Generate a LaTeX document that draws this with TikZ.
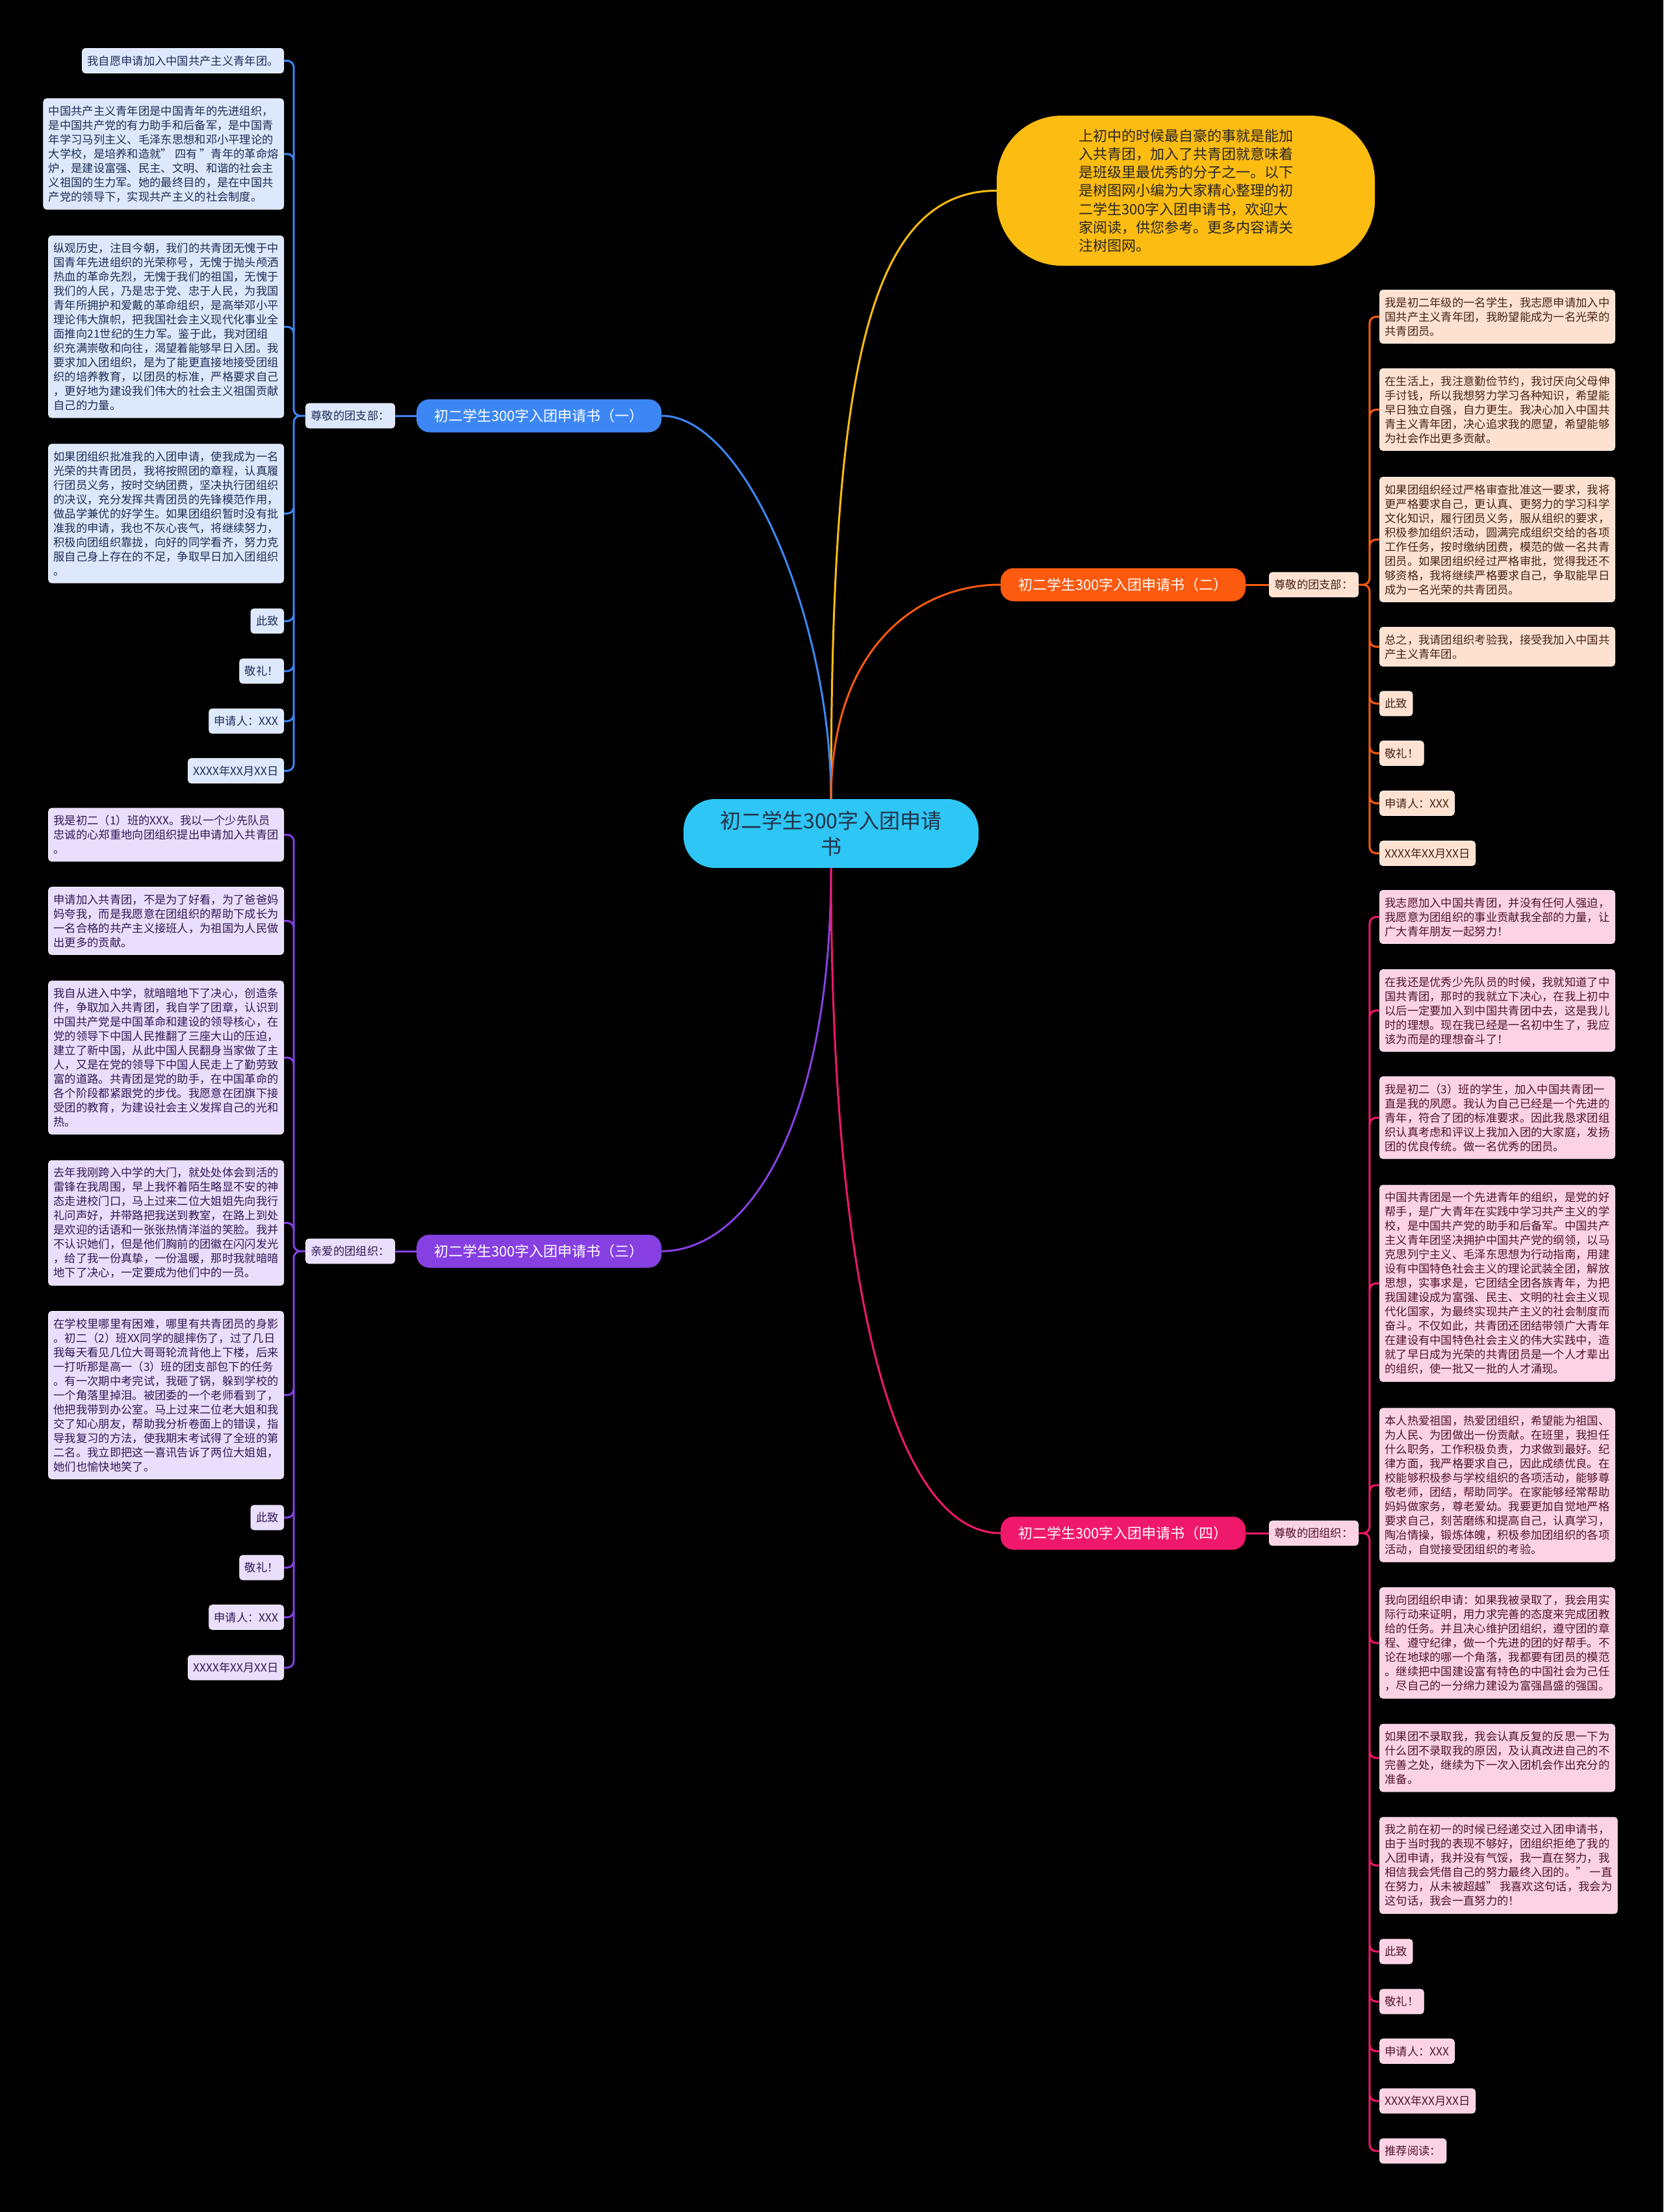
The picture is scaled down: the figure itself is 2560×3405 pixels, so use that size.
\documentclass[tikz,border=0pt]{standalone}
\usepackage{fontspec}
\setmainfont{Noto Sans CJK SC}
\definecolor{cblue}{RGB}{61,135,245}
\definecolor{lblue}{RGB}{221,232,252}
\definecolor{tblue}{RGB}{30,45,85}
\definecolor{corange}{RGB}{251,90,15}
\definecolor{lorange}{RGB}{253,226,210}
\definecolor{torange}{RGB}{70,35,20}
\definecolor{cpurple}{RGB}{134,64,226}
\definecolor{lpurple}{RGB}{233,222,251}
\definecolor{tpurple}{RGB}{50,25,85}
\definecolor{cpink}{RGB}{240,24,106}
\definecolor{lpink}{RGB}{251,211,228}
\definecolor{tpink}{RGB}{80,20,45}
\definecolor{cyellow}{RGB}{253,188,17}
\definecolor{ccenter}{RGB}{46,198,245}
\definecolor{tcenter}{RGB}{35,50,70}
\begin{document}
\begin{tikzpicture}[x=1pt, y=-1pt,
  leaf/.style={rounded corners=5pt, inner xsep=8pt, inner ysep=11pt, align=left,
    font=\fontsize{17.3}{22}\selectfont, line width=0.8pt},
  bleaf/.style={leaf, fill=lblue, draw=lblue!50!white, text=tblue},
  oleaf/.style={leaf, fill=lorange, draw=lorange!50!white, text=torange},
  vleaf/.style={leaf, fill=lpurple, draw=lpurple!50!white, text=tpurple},
  pleaf/.style={leaf, fill=lpink, draw=lpink!50!white, text=tpink},
  branch/.style={rounded corners=20pt, minimum width=377pt, minimum height=51pt,
    inner sep=0pt, text=white, font=\fontsize{22}{26}\selectfont},
  link/.style={line width=3pt},
  tree/.style={line width=3pt, rounded corners=10pt}]
\fill[black] (0,0) rectangle (2560,3405);

% centre and introduction
\node[fill=ccenter, rounded corners=48pt, minimum width=454pt, minimum height=106pt,
  align=center, text=tcenter, font=\fontsize{32}{40}\selectfont]
  (main) at (1279,1283) {初二学生300字入团申请\\书};
\node[fill=cyellow, rounded corners=100pt, minimum width=582pt, minimum height=231pt,
  align=left, text=black!85, font=\fontsize{22}{28.3}\selectfont]
  (intro) at (1825,293.5) {上初中的时候最自豪的事就是能加\\入共青团，加入了共青团就意味着\\是班级里最优秀的分子之一。以下\\是树图网小编为大家精心整理的初\\二学生300字入团申请书，欢迎大\\家阅读，供您参考。更多内容请关\\注树图网。};

% the four letters
\node[branch, fill=cblue]   (b1) at (829.5,640)  {初二学生300字入团申请书（一）};
\node[branch, fill=corange] (b2) at (1728.5,900) {初二学生300字入团申请书（二）};
\node[branch, fill=cpurple] (b3) at (829.5,1926) {初二学生300字入团申请书（三）};
\node[branch, fill=cpink]   (b4) at (1728.5,2360) {初二学生300字入团申请书（四）};

\node[bleaf, anchor=east] (zb1) at (608,640)  {尊敬的团支部：};
\node[oleaf, anchor=west] (zb2) at (1953,900) {尊敬的团支部：};
\node[vleaf, anchor=east] (zb3) at (608,1926) {亲爱的团组织：};
\node[pleaf, anchor=west] (zb4) at (1953,2360) {尊敬的团组织：};

% letter one
\node[bleaf, anchor=east] (l1a) at (437,93.5) {我自愿申请加入中国共产主义青年团。};
\node[bleaf, anchor=east] (l1b) at (437,237) {中国共产主义青年团是中国青年的先进组织，\\是中国共产党的有力助手和后备军，是中国青\\年学习马列主义、毛泽东思想和邓小平理论的\\大学校，是培养和造就" 四有 "青年的革命熔\\炉，是建设富强、民主、文明、和谐的社会主\\义祖国的生力军。她的最终目的，是在中国共\\产党的领导下，实现共产主义的社会制度。};
\node[bleaf, anchor=east] (l1c) at (437,503) {纵观历史，注目今朝，我们的共青团无愧于中\\国青年先进组织的光荣称号，无愧于抛头颅洒\\热血的革命先烈，无愧于我们的祖国，无愧于\\我们的人民，乃是忠于党、忠于人民，为我国\\青年所拥护和爱戴的革命组织，是高举邓小平\\理论伟大旗帜，把我国社会主义现代化事业全\\面推向21世纪的生力军。鉴于此，我对团组\\织充满崇敬和向往，渴望着能够早日入团。我\\要求加入团组织，是为了能更直接地接受团组\\织的培养教育，以团员的标准，严格要求自己\\，更好地为建设我们伟大的社会主义祖国贡献\\自己的力量。};
\node[bleaf, anchor=east] (l1d) at (437,790.5) {如果团组织批准我的入团申请，使我成为一名\\光荣的共青团员，我将按照团的章程，认真履\\行团员义务，按时交纳团费，坚决执行团组织\\的决议，充分发挥共青团员的先锋模范作用，\\做品学兼优的好学生。如果团组织暂时没有批\\准我的申请，我也不灰心丧气，将继续努力，\\积极向团组织靠拢，向好的同学看齐，努力克\\服自己身上存在的不足，争取早日加入团组织\\。};
\node[bleaf, anchor=east] (l1e) at (437,956)    {此致};
\node[bleaf, anchor=east] (l1f) at (437,1033)   {敬礼！};
\node[bleaf, anchor=east] (l1g) at (437,1110)   {申请人：XXX};
\node[bleaf, anchor=east] (l1h) at (437,1186.5) {XXXX年XX月XX日};

% letter two
\node[oleaf, anchor=west] (l2a) at (2123,487.5) {我是初二年级的一名学生，我志愿申请加入中\\国共产主义青年团，我盼望能成为一名光荣的\\共青团员。};
\node[oleaf, anchor=west] (l2b) at (2123,630.5) {在生活上，我注意勤俭节约，我讨厌向父母伸\\手讨钱，所以我想努力学习各种知识，希望能\\早日独立自强，自力更生。我决心加入中国共\\青主义青年团，决心追求我的愿望，希望能够\\为社会作出更多贡献。};
\node[oleaf, anchor=west] (l2c) at (2123,830.5) {如果团组织经过严格审查批准这一要求，我将\\更严格要求自己，更认真、更努力的学习科学\\文化知识，履行团员义务，服从组织的要求，\\积极参加组织活动，圆满完成组织交给的各项\\工作任务，按时缴纳团费，模范的做一名共青\\团员。如果团组织经过严格审批，觉得我还不\\够资格，我将继续严格要求自己，争取能早日\\成为一名光荣的共青团员。};
\node[oleaf, anchor=west] (l2d) at (2123,995.5) {总之，我请团组织考验我，接受我加入中国共\\产主义青年团。};
\node[oleaf, anchor=west] (l2e) at (2123,1083)   {此致};
\node[oleaf, anchor=west] (l2f) at (2123,1159.5) {敬礼！};
\node[oleaf, anchor=west] (l2g) at (2123,1236.5) {申请人：XXX};
\node[oleaf, anchor=west] (l2h) at (2123,1313.5) {XXXX年XX月XX日};

% letter three
\node[vleaf, anchor=east] (l3a) at (437,1285) {我是初二（1）班的XXX。我以一个少先队员\\忠诚的心郑重地向团组织提出申请加入共青团\\。};
\node[vleaf, anchor=east] (l3b) at (437,1417.5) {申请加入共青团，不是为了好看，为了爸爸妈\\妈夸我，而是我愿意在团组织的帮助下成长为\\一名合格的共产主义接班人，为祖国为人民做\\出更多的贡献。};
\node[vleaf, anchor=east] (l3c) at (437,1628) {我自从进入中学，就暗暗地下了决心，创造条\\件，争取加入共青团，我自学了团章，认识到\\中国共产党是中国革命和建设的领导核心，在\\党的领导下中国人民推翻了三座大山的压迫，\\建立了新中国，从此中国人民翻身当家做了主\\人，又是在党的领导下中国人民走上了勤劳致\\富的道路。共青团是党的助手，在中国革命的\\各个阶段都紧跟党的步伐。我愿意在团旗下接\\受团的教育，为建设社会主义发挥自己的光和\\热。};
\node[vleaf, anchor=east] (l3d) at (437,1882.5) {去年我刚跨入中学的大门，就处处体会到活的\\雷锋在我周围，早上我怀着陌生略显不安的神\\态走进校门口，马上过来二位大姐姐先向我行\\礼问声好，并带路把我送到教室，在路上到处\\是欢迎的话语和一张张热情洋溢的笑脸。我并\\不认识她们，但是他们胸前的团徽在闪闪发光\\，给了我一份真挚，一份温暖，那时我就暗暗\\地下了决心，一定要成为他们中的一员。};
\node[vleaf, anchor=east] (l3e) at (437,2147.5) {在学校里哪里有困难，哪里有共青团员的身影\\。初二（2）班XX同学的腿摔伤了，过了几日\\我每天看见几位大哥哥轮流背他上下楼，后来\\一打听那是高一（3）班的团支部包下的任务\\。有一次期中考完试，我砸了锅，躲到学校的\\一个角落里掉泪。被团委的一个老师看到了，\\他把我带到办公室。马上过来二位老大姐和我\\交了知心朋友，帮助我分析卷面上的错误，指\\导我复习的方法，使我期末考试得了全班的第\\二名。我立即把这一喜讯告诉了两位大姐姐，\\她们也愉快地笑了。};
\node[vleaf, anchor=east] (l3f) at (437,2336)   {此致};
\node[vleaf, anchor=east] (l3g) at (437,2413)   {敬礼！};
\node[vleaf, anchor=east] (l3h) at (437,2489.5) {申请人：XXX};
\node[vleaf, anchor=east] (l3i) at (437,2567)   {XXXX年XX月XX日};

% letter four
\node[pleaf, anchor=west] (l4a) at (2123,1411.5) {我志愿加入中国共青团，并没有任何人强迫，\\我愿意为团组织的事业贡献我全部的力量，让\\广大青年朋友一起努力！};
\node[pleaf, anchor=west] (l4b) at (2123,1555.5) {在我还是优秀少先队员的时候，我就知道了中\\国共青团，那时的我就立下决心，在我上初中\\以后一定要加入到中国共青团中去，这是我儿\\时的理想。现在我已经是一名初中生了，我应\\该为而是的理想奋斗了！};
\node[pleaf, anchor=west] (l4c) at (2123,1720.5) {我是初二（3）班的学生，加入中国共青团一\\直是我的夙愿。我认为自己已经是一个先进的\\青年，符合了团的标准要求。因此我恳求团组\\织认真考虑和评议上我加入团的大家庭，发扬\\团的优良传统。做一名优秀的团员。};
\node[pleaf, anchor=west] (l4d) at (2123,1975.5) {中国共青团是一个先进青年的组织，是党的好\\帮手，是广大青年在实践中学习共产主义的学\\校，是中国共产党的助手和后备军。中国共产\\主义青年团坚决拥护中国共产党的纲领，以马\\克思列宁主义、毛泽东思想为行动指南，用建\\设有中国特色社会主义的理论武装全团，解放\\思想，实事求是，它团结全团各族青年，为把\\我国建设成为富强、民主、文明的社会主义现\\代化国家，为最终实现共产主义的社会制度而\\奋斗。不仅如此，共青团还团结带领广大青年\\在建设有中国特色社会主义的伟大实践中，造\\就了早日成为光荣的共青团员是一个人才辈出\\的组织，使一批又一批的人才涌现。};
\node[pleaf, anchor=west] (l4e) at (2123,2286) {本人热爱祖国，热爱团组织，希望能为祖国、\\为人民、为团做出一份贡献。在班里，我担任\\什么职务，工作积极负责，力求做到最好。纪\\律方面，我严格要求自己，因此成绩优良。在\\校能够积极参与学校组织的各项活动，能够尊\\敬老师，团结，帮助同学。在家能够经常帮助\\妈妈做家务，尊老爱幼。我要更加自觉地严格\\要求自己，刻苦磨练和提高自己，认真学习，\\陶冶情操，锻炼体魄，积极参加团组织的各项\\活动，自觉接受团组织的考验。};
\node[pleaf, anchor=west] (l4f) at (2123,2529) {我向团组织申请：如果我被录取了，我会用实\\际行动来证明，用力求完善的态度来完成团教\\给的任务。并且决心维护团组织，遵守团的章\\程、遵守纪律，做一个先进的团的好帮手。不\\论在地球的哪一个角落，我都要有团员的模范\\。继续把中国建设富有特色的中国社会为己任\\，尽自己的一分绵力建设为富强昌盛的强国。};
\node[pleaf, anchor=west] (l4g) at (2123,2706) {如果团不录取我，我会认真反复的反思一下为\\什么团不录取我的原因，及认真改进自己的不\\完善之处，继续为下一次入团机会作出充分的\\准备。};
\node[pleaf, anchor=west] (l4h) at (2123,2871.5) {我之前在初一的时候已经递交过入团申请书，\\由于当时我的表现不够好，团组织拒绝了我的\\入团申请，我并没有气馁，我一直在努力，我\\相信我会凭借自己的努力最终入团的。" 一直\\在努力，从未被超越" 我喜欢这句话，我会为\\这句话，我会一直努力的！};
\node[pleaf, anchor=west] (l4i) at (2123,3004)   {此致};
\node[pleaf, anchor=west] (l4j) at (2123,3081)   {敬礼！};
\node[pleaf, anchor=west] (l4k) at (2123,3157.5) {申请人：XXX};
\node[pleaf, anchor=west] (l4l) at (2123,3234)   {XXXX年XX月XX日};
\node[pleaf, anchor=west] (l4m) at (2123,3311)   {推荐阅读：};

% connectors from the centre
\draw[link, cyellow] (main.north) .. controls +(0,-650) and +(-200,0) .. (intro.west);
\draw[link, cblue]   (main.north) .. controls +(0,-270) and +(130,0) .. (b1.east);
\draw[link, corange] (main.north) .. controls +(0,-230) and +(-130,0) .. (b2.west);
\draw[link, cpurple] (main.south) .. controls +(0,400) and +(130,0) .. (b3.east);
\draw[link, cpink]   (main.south) .. controls +(0,700) and +(-150,0) .. (b4.west);
\draw[link, cblue]   (b1.west) -- (zb1.east);
\draw[link, corange] (b2.east) -- (zb2.west);
\draw[link, cpurple] (b3.west) -- (zb3.east);
\draw[link, cpink]   (b4.east) -- (zb4.west);

% trunks to the paragraphs
\draw[tree, cblue]
  (zb1.west) -- ++(-18,0) |- (l1a.east) (zb1.west) -- ++(-18,0) |- (l1b.east)
  (zb1.west) -- ++(-18,0) |- (l1c.east) (zb1.west) -- ++(-18,0) |- (l1d.east)
  (zb1.west) -- ++(-18,0) |- (l1e.east) (zb1.west) -- ++(-18,0) |- (l1f.east)
  (zb1.west) -- ++(-18,0) |- (l1g.east) (zb1.west) -- ++(-18,0) |- (l1h.east);
\draw[tree, corange]
  (zb2.east) -- ++(17,0) |- (l2a.west) (zb2.east) -- ++(17,0) |- (l2b.west)
  (zb2.east) -- ++(17,0) |- (l2c.west) (zb2.east) -- ++(17,0) |- (l2d.west)
  (zb2.east) -- ++(17,0) |- (l2e.west) (zb2.east) -- ++(17,0) |- (l2f.west)
  (zb2.east) -- ++(17,0) |- (l2g.west) (zb2.east) -- ++(17,0) |- (l2h.west);
\draw[tree, cpurple]
  (zb3.west) -- ++(-18,0) |- (l3a.east) (zb3.west) -- ++(-18,0) |- (l3b.east)
  (zb3.west) -- ++(-18,0) |- (l3c.east) (zb3.west) -- ++(-18,0) |- (l3d.east)
  (zb3.west) -- ++(-18,0) |- (l3e.east) (zb3.west) -- ++(-18,0) |- (l3f.east)
  (zb3.west) -- ++(-18,0) |- (l3g.east) (zb3.west) -- ++(-18,0) |- (l3h.east)
  (zb3.west) -- ++(-18,0) |- (l3i.east);
\draw[tree, cpink]
  (zb4.east) -- ++(17,0) |- (l4a.west) (zb4.east) -- ++(17,0) |- (l4b.west)
  (zb4.east) -- ++(17,0) |- (l4c.west) (zb4.east) -- ++(17,0) |- (l4d.west)
  (zb4.east) -- ++(17,0) |- (l4e.west) (zb4.east) -- ++(17,0) |- (l4f.west)
  (zb4.east) -- ++(17,0) |- (l4g.west) (zb4.east) -- ++(17,0) |- (l4h.west)
  (zb4.east) -- ++(17,0) |- (l4i.west) (zb4.east) -- ++(17,0) |- (l4j.west)
  (zb4.east) -- ++(17,0) |- (l4k.west) (zb4.east) -- ++(17,0) |- (l4l.west)
  (zb4.east) -- ++(17,0) |- (l4m.west);
\end{tikzpicture}
\end{document}
